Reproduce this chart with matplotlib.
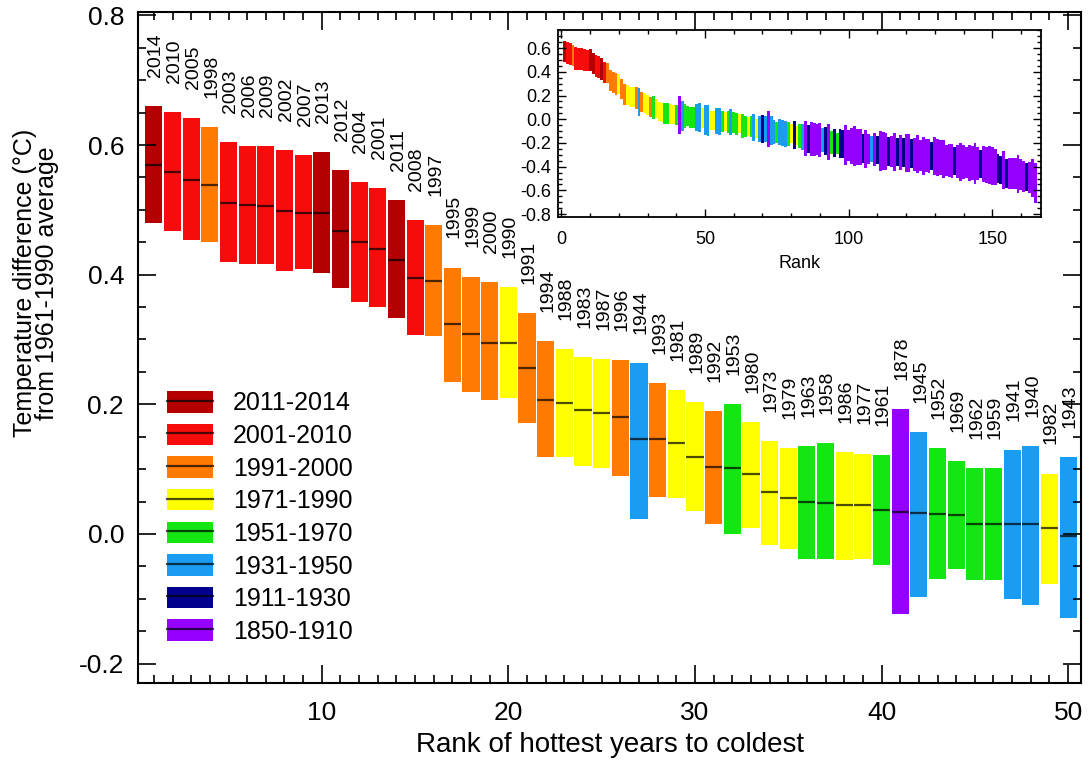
import numpy as np
import matplotlib
matplotlib.use('Agg')
import matplotlib.pyplot as plt
from matplotlib.patches import Patch
from matplotlib.lines import Line2D
from matplotlib.ticker import MultipleLocator, FormatStrFormatter
from matplotlib import font_manager

# --- data: 50 warmest years (rank order) ---
TOP_YEARS = [2014, 2010, 2005, 1998, 2003, 2006, 2009, 2002, 2007, 2013,
             2012, 2004, 2001, 2011, 2008, 1997, 1995, 1999, 2000, 1990,
             1991, 1994, 1988, 1983, 1987, 1996, 1944, 1993, 1981, 1989,
             1992, 1953, 1980, 1973, 1979, 1963, 1958, 1986, 1977, 1961,
             1878, 1945, 1952, 1969, 1962, 1959, 1941, 1940, 1982, 1943]
TOP_MEDIAN = [0.569, 0.558, 0.546, 0.538, 0.510, 0.508, 0.506, 0.499, 0.495, 0.495,
              0.468, 0.451, 0.440, 0.423, 0.395, 0.391, 0.324, 0.309, 0.295, 0.295,
              0.256, 0.206, 0.202, 0.191, 0.186, 0.181, 0.147, 0.146, 0.140, 0.119,
              0.104, 0.101, 0.093, 0.064, 0.056, 0.050, 0.048, 0.045, 0.045, 0.037,
              0.034, 0.033, 0.031, 0.029, 0.016, 0.016, 0.016, 0.016, 0.009, -0.003]
TOP_UPPER = [0.660, 0.651, 0.642, 0.628, 0.605, 0.598, 0.598, 0.592, 0.584, 0.589,
             0.561, 0.543, 0.533, 0.515, 0.484, 0.477, 0.411, 0.397, 0.388, 0.381,
             0.341, 0.298, 0.285, 0.273, 0.270, 0.268, 0.264, 0.233, 0.222, 0.203,
             0.189, 0.200, 0.172, 0.143, 0.133, 0.135, 0.140, 0.126, 0.124, 0.122,
             0.192, 0.157, 0.132, 0.112, 0.101, 0.101, 0.129, 0.136, 0.093, 0.119]
TOP_LOWER = [0.479, 0.468, 0.454, 0.450, 0.419, 0.417, 0.417, 0.406, 0.408, 0.403,
             0.380, 0.358, 0.350, 0.333, 0.307, 0.305, 0.234, 0.219, 0.206, 0.209,
             0.171, 0.118, 0.118, 0.105, 0.102, 0.090, 0.023, 0.057, 0.056, 0.036,
             0.016, 0.000, 0.009, -0.017, -0.023, -0.039, -0.039, -0.040, -0.039, -0.048,
             -0.124, -0.098, -0.070, -0.054, -0.071, -0.071, -0.101, -0.109, -0.078, -0.130]

# --- remaining years (ranks 51-165), estimated from the inset ---
TAIL_YEARS = [1942, 1984, 1978, 1938, 1937, 1957, 1985, 1970, 1939, 1960,
              1967, 1975, 1951, 1966, 1972, 1968, 1947, 1971, 1948, 1926,
              1931, 1877, 1946, 1949, 1965, 1932, 1934, 1936, 1954, 1974,
              1930, 1976, 1955, 1935, 1881, 1915, 1889, 1896, 1900, 1897,
              1950, 1921, 1882, 1956, 1928, 1964, 1927, 1925, 1851, 1899,
              1880, 1852, 1879, 1883, 1914, 1854, 1901, 1933, 1888, 1920,
              1853, 1869, 1855, 1923, 1906, 1859, 1924, 1872, 1919, 1870,
              1866, 1922, 1886, 1865, 1898, 1863, 1895, 1891, 1918, 1867,
              1868, 1873, 1871, 1905, 1890, 1894, 1929, 1887, 1856, 1885,
              1902, 1884, 1893, 1850, 1892, 1916, 1874, 1876, 1858, 1860,
              1875, 1913, 1912, 1861, 1917, 1908, 1910, 1903, 1857, 1907,
              1909, 1911, 1904, 1864, 1862]
TAIL_MEDIAN = [-0.009, -0.012, -0.013, -0.014, -0.019, -0.019, -0.021, -0.022, -0.027, -0.027,
               -0.040, -0.040, -0.060, -0.060, -0.062, -0.064, -0.070, -0.078, -0.080, -0.081,
               -0.081, -0.083, -0.095, -0.110, -0.110, -0.111, -0.116, -0.121, -0.123, -0.124,
               -0.131, -0.139, -0.144, -0.152, -0.163, -0.165, -0.166, -0.168, -0.171, -0.175,
               -0.176, -0.183, -0.194, -0.197, -0.200, -0.204, -0.205, -0.210, -0.218, -0.224,
               -0.227, -0.228, -0.233, -0.234, -0.246, -0.248, -0.251, -0.251, -0.255, -0.260,
               -0.269, -0.269, -0.272, -0.272, -0.274, -0.275, -0.277, -0.279, -0.281, -0.286,
               -0.288, -0.290, -0.295, -0.297, -0.307, -0.309, -0.309, -0.311, -0.312, -0.314,
               -0.323, -0.324, -0.335, -0.345, -0.347, -0.352, -0.353, -0.354, -0.358, -0.360,
               -0.363, -0.367, -0.370, -0.373, -0.373, -0.376, -0.377, -0.384, -0.386, -0.393,
               -0.402, -0.416, -0.428, -0.430, -0.457, -0.459, -0.459, -0.460, -0.461, -0.465,
               -0.486, -0.489, -0.492, -0.494, -0.540]
TAIL_HALF = [0.13, 0.08, 0.08, 0.11, 0.11, 0.09, 0.08, 0.09, 0.11, 0.09,
             0.09, 0.08, 0.10, 0.09, 0.08, 0.09, 0.11, 0.08, 0.11, 0.12,
             0.11, 0.15, 0.12, 0.10, 0.09, 0.11, 0.11, 0.11, 0.10, 0.08,
             0.12, 0.08, 0.10, 0.11, 0.15, 0.12, 0.14, 0.14, 0.13, 0.14,
             0.10, 0.12, 0.15, 0.10, 0.12, 0.09, 0.12, 0.12, 0.17, 0.13,
             0.15, 0.17, 0.15, 0.15, 0.12, 0.16, 0.13, 0.11, 0.14, 0.12,
             0.17, 0.16, 0.16, 0.12, 0.13, 0.16, 0.12, 0.15, 0.12, 0.16,
             0.16, 0.12, 0.14, 0.16, 0.13, 0.16, 0.14, 0.14, 0.12, 0.16,
             0.16, 0.15, 0.16, 0.13, 0.14, 0.14, 0.12, 0.14, 0.16, 0.14,
             0.13, 0.15, 0.14, 0.17, 0.14, 0.12, 0.15, 0.15, 0.16, 0.16,
             0.15, 0.12, 0.12, 0.16, 0.12, 0.13, 0.13, 0.13, 0.16, 0.13,
             0.13, 0.12, 0.13, 0.16, 0.17]

ERA_LABELS = ['2011-2014', '2001-2010', '1991-2000', '1971-1990',
              '1951-1970', '1931-1950', '1911-1930', '1850-1910']
ERA_START = [2011, 2001, 1991, 1971, 1951, 1931, 1911, 1850]
ERA_COLORS = ['#b40000', '#f70c0c', '#ff7a00', '#ffff00',
              '#14e614', '#1a9cf0', '#00008c', '#9400ff']


def era_color(year):
    for start, c in zip(ERA_START, ERA_COLORS):
        if year >= start:
            return c
    return ERA_COLORS[-1]


plt.rcParams['axes.unicode_minus'] = False
names = {f.name for f in font_manager.fontManager.ttflist}
narrow = 'Liberation Sans Narrow' if 'Liberation Sans Narrow' in names else 'Liberation Sans'
plt.rcParams['font.family'] = 'Liberation Sans'

fig = plt.figure(figsize=(10.91, 7.61), dpi=100)
ax = fig.add_axes([0.1265, 0.1025, 0.8645, 0.8815])

ranks = np.arange(1, len(TOP_YEARS) + 1)
upper = np.array(TOP_UPPER)
lower = np.array(TOP_LOWER)
colors = [era_color(y) for y in TOP_YEARS]
ax.bar(ranks, upper - lower, bottom=lower, width=0.92, color=colors, linewidth=0)
ax.hlines(TOP_MEDIAN, ranks - 0.46, ranks + 0.46, color='black', lw=1.6, alpha=0.7)
for r, yr, top in zip(ranks, TOP_YEARS, upper):
    ax.text(r + 0.1, top + 0.045, str(yr), rotation=90, ha='center', va='bottom',
            fontsize=14, family=narrow)

ax.set_xlim(0.15, 50.7)
ax.set_ylim(-0.23, 0.805)
ax.xaxis.set_major_locator(MultipleLocator(10))
ax.xaxis.set_minor_locator(MultipleLocator(1))
ax.yaxis.set_major_locator(MultipleLocator(0.2))
ax.yaxis.set_minor_locator(MultipleLocator(0.05))
ax.yaxis.set_major_formatter(FormatStrFormatter('%.1f'))
ax.tick_params(which='both', direction='in', top=True, right=True, width=1.2)
ax.tick_params(which='major', length=13, labelsize=19)
ax.tick_params(axis='x', which='major', pad=13)
ax.tick_params(axis='y', which='major', pad=10)
ax.tick_params(which='minor', length=6)
for s in ax.spines.values():
    s.set_linewidth(1.5)

fig.text(0.5587, 1 - 745 / 761, 'Rank of hottest years to coldest', ha='center', va='center',
         fontsize=20, family=narrow)
fig.text(36 / 1091, 1 - 283 / 761, 'Temperature difference (\u00b0C)\nfrom 1961-1990 average',
         rotation=90, ha='center', va='center', multialignment='center',
         fontsize=18, family=narrow, linespacing=0.85)

handles = [(Patch(facecolor=c, edgecolor='none'),
            Line2D([], [], color='black', lw=1.6, alpha=0.7)) for c in ERA_COLORS]
ax.legend(handles, ERA_LABELS, loc='upper left', bbox_to_anchor=(167 / 1091, 1 - 391 / 761),
          bbox_transform=fig.transFigure, frameon=False, fontsize=18, borderpad=0,
          borderaxespad=0, handlelength=1.85, handleheight=0.95, handletextpad=0.8,
          labelspacing=0.33)

# --- inset: all years ---
ins = fig.add_axes([0.5115, 0.7148, 0.4427, 0.2457])
all_years = TOP_YEARS + TAIL_YEARS
all_upper = list(TOP_UPPER) + [m + h for m, h in zip(TAIL_MEDIAN, TAIL_HALF)]
all_lower = list(TOP_LOWER) + [m - h for m, h in zip(TAIL_MEDIAN, TAIL_HALF)]
all_ranks = np.arange(1, len(all_years) + 1)
ins.bar(all_ranks, np.array(all_upper) - np.array(all_lower), bottom=all_lower, width=1.0,
        color=[era_color(y) for y in all_years], linewidth=0)
ins.set_xlim(-1.2, 167)
ins.set_ylim(-0.825, 0.752)
ins.xaxis.set_major_locator(MultipleLocator(50))
ins.xaxis.set_minor_locator(MultipleLocator(10))
ins.yaxis.set_major_locator(MultipleLocator(0.2))
ins.yaxis.set_minor_locator(MultipleLocator(0.05))
ins.yaxis.set_major_formatter(FormatStrFormatter('%.1f'))
ins.tick_params(which='both', direction='in', top=True, right=True, width=1.0)
ins.tick_params(which='major', length=6, labelsize=13)
ins.tick_params(axis='x', which='major', pad=10)
ins.tick_params(axis='y', which='major', pad=5)
ins.tick_params(which='minor', length=3)
for s in ins.spines.values():
    s.set_linewidth(1.3)
ins.set_xlabel('Rank', fontsize=13, labelpad=5)

fig.savefig('out.png', dpi=100)
